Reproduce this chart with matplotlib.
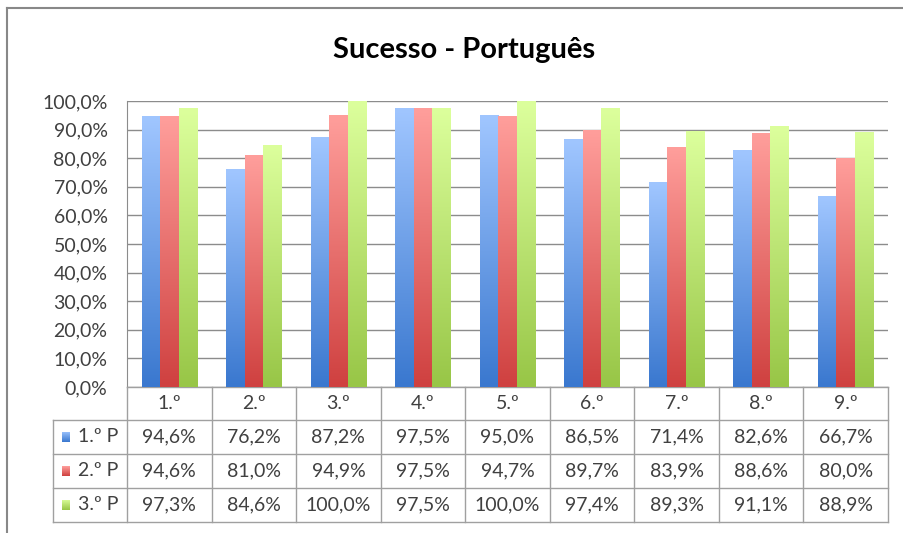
import numpy as np
import matplotlib.pyplot as plt
from matplotlib.colors import LinearSegmentedColormap
from matplotlib.lines import Line2D

plt.rcParams['font.family'] = ['Lato', 'DejaVu Sans']

categories = ['1.º', '2.º', '3.º', '4.º', '5.º', '6.º', '7.º', '8.º', '9.º']
series_names = ['1.º P', '2.º P', '3.º P']
p1 = [94.6, 76.2, 87.2, 97.5, 95.0, 86.5, 71.4, 82.6, 66.7]
p2 = [94.6, 81.0, 94.9, 97.5, 94.7, 89.7, 83.9, 88.6, 80.0]
p3 = [97.3, 84.6, 100.0, 97.5, 100.0, 97.4, 89.3, 91.1, 88.9]
series = [p1, p2, p3]

# gradient colours (top, bottom) per series
grads = [('#a0c6ff', '#3a78cf'), ('#ff9e9b', '#cf4140'), ('#dcff9c', '#98c647')]

W, H = 904, 533
fig = plt.figure(figsize=(W / 100, H / 100), dpi=100)

# plot area in pixels
L, R, T, B = 127, 888, 101, 387
ax = fig.add_axes([L / W, 1 - B / H, (R - L) / W, (B - T) / H])

n = len(categories)
x = np.arange(n)
bw = 0.219
txt = '#404040'
grid_c = '#8c8c8c'
line_c = '#a0a0a0'
fs = 14

for i, (vals, (top, bot)) in enumerate(zip(series, grads)):
    cmap = LinearSegmentedColormap.from_list('g%d' % i, [bot, top])
    bars = ax.bar(x + (i - 1) * bw, vals, bw, facecolor='none', edgecolor='none', zorder=3)
    for b in bars:
        x0, w, h = b.get_x(), b.get_width(), b.get_height()
        grad = np.linspace(1, 0, 100).reshape(-1, 1)
        ax.imshow(grad, extent=[x0, x0 + w, 0, h], aspect='auto', cmap=cmap,
                  vmin=0, vmax=1, zorder=3, interpolation='bicubic')

ax.set_xlim(-0.5, n - 0.5)
ax.set_ylim(0, 100)
ax.set_yticks(np.arange(0, 101, 10))
ax.yaxis.set_major_formatter(plt.FuncFormatter(lambda v, p: ('%.1f%%' % v).replace('.', ',')))
ax.tick_params(axis='y', length=0, pad=14, labelsize=fs, labelcolor=txt)
ax.tick_params(axis='x', bottom=False, labelbottom=False)
ax.grid(axis='y', color=grid_c, linewidth=1, zorder=0)
for s in ['top', 'right', 'bottom']:
    ax.spines[s].set_visible(False)
ax.spines['left'].set_color(grid_c)
ax.spines['left'].set_zorder(0)

# data table below the plot
ph = B - T
row_px = [387, 420, 454, 488, 522]
ry = [(B - p) / ph for p in row_px]  # axes-fraction y of row boundaries
bt = ax.get_xaxis_transform()
col_px = (R - L) / n
left_x = -0.5 - (L - 53) / col_px

kw = dict(transform=bt, clip_on=False, color=line_c, linewidth=1)
ax.add_line(Line2D([-0.5, n - 0.5], [ry[0], ry[0]], **kw))
for yy in ry[1:]:
    ax.add_line(Line2D([left_x, n - 0.5], [yy, yy], **kw))
for k in range(n + 1):
    ax.add_line(Line2D([k - 0.5, k - 0.5], [ry[0], ry[-1]], **kw))
ax.add_line(Line2D([left_x, left_x], [ry[1], ry[-1]], **kw))

for j, c in enumerate(categories):
    ax.text(j, (ry[0] + ry[1]) / 2, c, transform=bt, ha='center', va='center',
            fontsize=fs, color=txt)

sq_w = 8 / col_px
sq_x = -0.5 - (L - 62) / col_px
lab_x = -0.5 - (L - 78) / col_px
for i, (name, vals, (top, bot)) in enumerate(zip(series_names, series, grads)):
    yc = (ry[i + 1] + ry[i + 2]) / 2
    for j, v in enumerate(vals):
        ax.text(j, yc, ('%.1f%%' % v).replace('.', ','), transform=bt,
                ha='center', va='center', fontsize=fs, color=txt)
    cmap = LinearSegmentedColormap.from_list('s%d' % i, [bot, top])
    sq = ax.inset_axes([sq_x, yc - 5 / ph, sq_w, 10 / ph], transform=bt)
    sq.imshow(np.linspace(1, 0, 50).reshape(-1, 1), aspect='auto', cmap=cmap, vmin=0, vmax=1)
    sq.axis('off')
    ax.text(lab_x, yc, name, transform=bt, ha='left', va='center', fontsize=fs, color=txt)

fig.suptitle('Sucesso - Português', x=464 / W, y=1 - 50 / H, va='center',
             fontsize=21, fontweight='bold', color='black')

# chart border
fig.add_artist(Line2D([7 / W, 1], [1 - 8 / H, 1 - 8 / H], transform=fig.transFigure,
                      color='#888888', linewidth=1.5))
fig.add_artist(Line2D([7 / W, 7 / W], [0, 1 - 8 / H], transform=fig.transFigure,
                      color='#888888', linewidth=1.5))

fig.savefig('out.png', dpi=100)
